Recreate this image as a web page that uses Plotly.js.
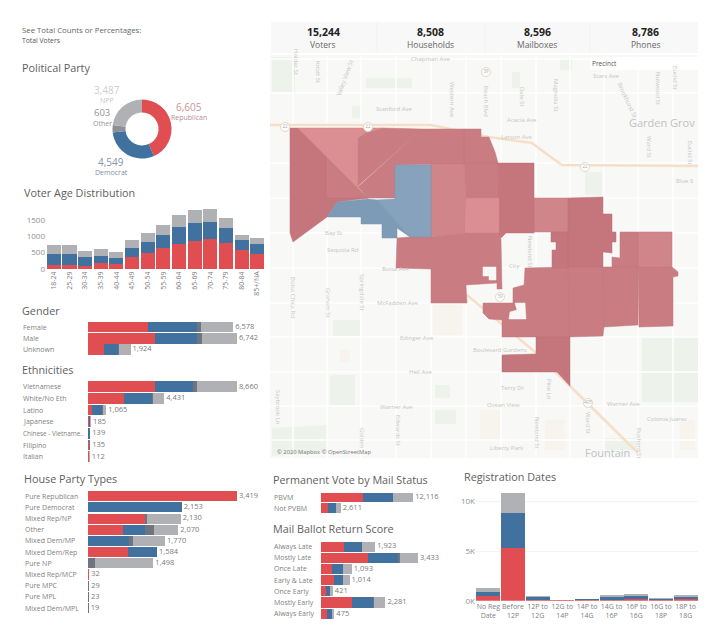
<!DOCTYPE html>
<html><head><meta charset="utf-8">
<script src="https://cdn.plot.ly/plotly-3.0.1.min.js"></script>
<style>html,body{margin:0;padding:0;background:#fff}#c{width:720px;height:640px}</style>
</head><body><div id="c"></div>
<script>
// ---------- data ----------
const statValues = ['15,244','8,508','8,596','8,786'];
const statNames = ['Voters','Households','Mailboxes','Phones'];

const partyNames = ['Republican','Democrat','Other','NPP'];
const partyValues = [6605,4549,603,3487];

const ageCats = ['18-24','25-29','30-34','35-39','40-44','45-49','50-54','55-59','60-64','65-69','70-74','75-79','80-84','85+/NA'];
const ageRep = [112,112,92,184,163,367,500,633,776,857,918,806,571,469];
const ageDem = [337,337,275,224,184,266,316,418,520,541,521,449,307,296];
const ageNpp = [296,276,194,214,163,255,296,306,347,398,408,316,173,174];

const genderCats = ['Female','Male','Unknown'];
const genderRep = [2722,3040,725];
const genderDem = [2208,1900,635];
const genderOth = [197,230,60];
const genderNpp = [1451,1572,504];

const ethCats = ['Vietnamese','White/No Eth','Latino','Japanese','Chinese - Vietname..','Filipino','Italian'];
const ethRep = [3895,2110,233,40,25,35,35];
const ethDem = [2192,1610,581,80,75,50,40];
const ethOth = [233,40,58,15,5,5,3];
const ethNpp = [2340,671,193,50,34,45,34];

const houseCats = ['Pure Republican','Pure Democrat','Mixed Rep/NP','Other','Mixed Dem/MP','Mixed Dem/Rep','Pure NP','Mixed Rep/MCP','Pure MPC','Pure MPL','Mixed Dem/MPL'];
const houseRep = [3419,0,1300,803,0,911,0,16,0,0,0];
const houseDem = [0,2153,0,514,941,673,0,0,0,0,9];
const houseOth = [0,0,47,190,92,0,170,16,29,23,10];
const houseNpp = [0,0,783,563,737,0,1328,0,0,0,0];

const pvbmCats = ['PBVM','Not PVBM'];
const pvbmRep = [5470,960];
const pvbmDem = [3940,1010];
const pvbmOth = [80,40];
const pvbmNpp = [2626,601];

const scoreCats = ['Always Late','Mostly Late','Once Late','Early & Late','Once Early','Mostly Early','Always Early'];
const scoreRep = [814,1674,400,460,165,1108,200];
const scoreDem = [626,1061,368,308,153,743,178];
const scoreOth = [25,45,22,17,7,29,12];
const scoreNpp = [458,653,303,229,96,401,85];

const regCats = ['No Reg<br>Date','Before<br>12P','12P to<br>12G','12G to<br>14P','14P to<br>14G','14G to<br>16P','16P to<br>16G','16G to<br>18P','18P to<br>18G'];
const regRep = [503,5277,90,30,60,120,140,70,130];
const regDem = [403,3523,290,40,80,280,300,130,250];
const regOth = [0,0,20,5,10,20,30,10,30];
const regNpp = [403,2015,103,25,50,117,167,58,127];

// precinct outlines
const precinctDark = [
 [[290,128],[298,128],[326,156],[326,198],[368,198],[337,202],[327,217],[293,242],[290,233]],
 [[498,163],[534,163],[534,233],[506,233],[501,238],[499,233]],
 [[568,198],[603,197],[603,214],[612,214],[612,232],[616,232],[616,242],[612,242],[612,253],[603,252],[603,267],[568,267]],
 [[551,232],[568,232],[568,268],[552,268],[552,250],[556,250],[556,242],[551,242]],
 [[536,337],[570,337],[570,386],[557,372],[502,372],[502,355],[536,354]]
];
const precinctMid = [
 [[358,138],[365,133],[383,128],[422,129],[358,186]],
 [[422,129],[464,129],[464,164],[395,165],[395,198],[368,198],[358,187]],
 [[326,156],[326,198],[368,198]],
 [[464,129],[481,129],[481,137],[489,137],[495,152],[498,163],[464,163]],
 [[464,163],[498,163],[499,198],[466,198]],
 [[397,238],[410,237],[431,237],[465,233],[500,233],[501,240],[502,289],[497,289],[497,283],[466,285],[467,303],[431,303],[431,269],[396,268]],
 [[525,268],[568,267],[569,337],[502,337],[502,320],[489,319],[483,313],[483,303],[513,303],[513,288],[524,285]],
 [[620,232],[638,232],[638,267],[612,267],[612,257],[620,258]],
 [[603,267],[638,267],[638,325],[604,327]],
 [[568,267],[603,267],[604,327],[603,336],[569,337]],
 [[638,267],[672,267],[678,272],[678,276],[673,277],[673,326],[639,327]]
];
const precinctSoft = [
 [[431,164],[464,164],[466,198],[465,233],[431,237]],
 [[534,198],[568,198],[568,232],[534,232]],
 [[638,232],[672,232],[672,267],[638,267]]
];
const precinctLight = [
 [[298,128],[383,128],[365,133],[358,138],[358,188]],
 [[466,198],[499,198],[499,233],[465,233]]
];
const precinctBlueEast = [[[395,165],[431,165],[431,237],[410,237],[377,200],[395,199]]];
const precinctBlueWest = [[[368,199],[377,200],[410,237],[397,228],[397,238],[382,238],[382,224],[361,224],[361,217],[327,217],[337,202]]];
const mapHoles = [
 [[483,267],[496,267],[496,280],[489,280],[489,276],[483,276]],
 [[515,303],[525,303],[526,319],[509,319],[510,312],[517,310]]
];
const parks = [
 [[272,57],[295,57],[295,92],[272,92]],[[366,78],[412,78],[412,88],[366,88]],[[352,106],[362,106],[362,118],[352,118]],
 [[512,72],[520,72],[520,88],[512,88]],[[560,58],[572,58],[572,70],[560,70]],[[585,172],[602,172],[602,195],[585,195]],
 [[330,375],[355,375],[355,405],[330,405]],[[642,337],[698,337],[698,402],[642,402]],[[272,428],[328,425],[328,452],[272,456]],
 [[435,385],[450,385],[450,398],[435,398]],[[435,410],[456,410],[456,424],[435,424]],[[333,320],[360,320],[360,336],[333,336]],
 [[604,438],[640,438],[640,450],[604,450]]
];
const sandPatches = [
 [[433,305],[462,305],[462,335],[433,335]],[[480,410],[500,410],[500,440],[480,440]],[[545,420],[565,420],[565,450],[545,450]],
 [[340,350],[350,350],[350,362],[340,362]],[[680,420],[695,420],[695,450],[680,450]]
];
const roadXs = [293,293,null,327,327,null,361,361,null,396,396,null,431,431,null,466,466,null,501,501,null,536,536,null,570,570,null,604,604,null,638,638,null,673,673,null,
 270,698,null,270,698,null,270,698,null,270,698,null,270,698,null,270,698,null,270,698,null,270,698,null,270,698,null,270,698,null,270,698];
const roadYs = [55,458,null,55,458,null,55,458,null,55,458,null,55,458,null,55,458,null,55,458,null,55,458,null,55,458,null,55,458,null,55,458,null,55,458,null,
 93,93,null,163,163,null,198,198,null,233,233,null,268,268,null,303,303,null,337,337,null,372,372,null,406,406,null,440,440,null,59,59];
const freewayXs = [270,431,489,532,548,562,698,null,467,535,570,638];
const freewayYs = [125,125,137,143,155,165,166,null,295,352,386,453];
const shieldX = [285,368,486,585,500,588];
const shieldY = [127,127,72,167,297,403];
const shieldText = ['22','22','39','22','39','405'];
const mapLabels = [
 ['Chapman Ave',430,59,0],['Stanford Ave',394,109,0],['Acacia Ave',522,120,0],['Larson Ave',516,137,0],
 ['Western Ave',452,100,90],['Beach Blvd',486,101,90],['Dale St',522,97,90],['Magnolia St',556,95,90],
 ['Brookhurst St',627,100,65],['Nutwood St',658,88,90],['Euclid St',675,78,90],['Stars Ave',606,76,0],
 ['Knott St',318,72,90],['Holder St',296,62,90],['Valley View St',345,78,-70],['Ward St',649,147,90],['Euclid St',690,153,90],
 ['Blue S',684,181,0],['Bay St',333,233,0],['Sequoia Rd',343,250,0],['Newland St',530,252,90],['City',514,266,0],
 ['Bolsa Ave',396,269,0],['McFadden Ave',397,303,0],['Edinger Ave',417,338,0],['Boulevard Gardens',500,350,0],['Heil Ave',420,372,0],
 ['Terry Dr',512,388,0],['Ocean View',503,405,0],['Warner Ave',396,407,0],['Warner Ave',623,404,0],['Colonia Juarez',667,419,0],
 ['Liberty Park',507,448,0],['Bolsa Chica Rd',293,297,90],['Graham St',328,303,90],['Springdale St',362,292,90],
 ['Edwards St',398,430,90],['Newland St',537,433,90],['Pine Ln',549,389,90],['Ward St',588,423,90],['Bushard St',639,443,90],['Saybrook Ln',278,407,90],['Golden',362,438,90]
];

// ---------- styling & helpers ----------
const W=720,H=640;
const RED='#e14e51',BLUE='#41719f',OTH='#6d7580',GRY='#b0b1b4';
const F='"Open Sans", sans-serif';
const X=(a,b)=>[a/W,b/W], Y=(a,b)=>[1-b/H,1-a/H];
const data=[],annotations=[],shapes=[],layout={};

function txt(t,x,y,size,color,anchor,extra){
  annotations.push(Object.assign({text:t,x:x/W,y:1-y/H,xref:'paper',yref:'paper',xanchor:anchor||'left',yanchor:'middle',showarrow:false,
    font:{family:F,size:size,color:color},borderpad:0,borderwidth:0},extra||{}));
}
function fmt(n){return n.toLocaleString('en-US');}

let axN=1;
function hPanel(cats,rep,dem,oth,npp,px0,px1,py0,py1,xMax,labelX,barW){
  const n=axN++;const xa='x'+n,ya='y'+n;
  const kx='xaxis'+n,ky='yaxis'+n;
  layout[kx]={domain:X(px0,px1),range:[0,xMax],visible:false,fixedrange:true,anchor:ya};
  layout[ky]={domain:Y(py0,py1),type:'category',categoryarray:cats,range:[cats.length-.5,-.5],visible:false,fixedrange:true,anchor:xa};
  [[rep,RED,'Republican'],[dem,BLUE,'Democrat'],[oth,OTH,'Other'],[npp,GRY,'NPP']].forEach(s=>{
    data.push({type:'bar',orientation:'h',name:s[2],x:s[0],y:cats,xaxis:xa,yaxis:ya,width:barW,marker:{color:s[1],line:{width:0}},hoverinfo:'skip',showlegend:false});
  });
  const totals=cats.map((c,i)=>rep[i]+dem[i]+oth[i]+npp[i]);
  data.push({type:'scatter',mode:'text',x:totals,y:cats,xaxis:xa,yaxis:ya,text:totals.map(v=>' '+fmt(v)),textposition:'middle right',
    textfont:{family:F,size:7.5,color:'#7a7a7a'},cliponaxis:false,hoverinfo:'skip',showlegend:false});
  cats.forEach(c=>annotations.push({text:c,x:labelX/W,y:c,xref:'paper',yref:ya,xanchor:'left',yanchor:'middle',showarrow:false,
    font:{family:F,size:c.length>15?6.4:7,color:'#7f7f7f'},borderpad:0}));
}
function vPanel(cats,series,px0,px1,py0,py1,yMax,barW,yTicks,yText,xFont,xAngle,grid){
  const n=axN++;const xa='x'+n,ya='y'+n;
  layout['xaxis'+n]={domain:X(px0,px1),type:'category',categoryarray:cats,range:[-.5,cats.length-.5],fixedrange:true,anchor:ya,
    showgrid:false,zeroline:false,showline:false,ticks:'',tickangle:xAngle,tickfont:{family:F,size:xFont,color:'#808080'},automargin:false};
  layout['yaxis'+n]={domain:Y(py0,py1),range:[0,yMax],fixedrange:true,anchor:xa,tickvals:yTicks,ticktext:yText,
    showgrid:grid,gridcolor:'#f3f3f3',zeroline:false,showline:false,ticks:'',tickfont:{family:F,size:8,color:'#8f8f8f'},automargin:false};
  series.forEach(s=>data.push({type:'bar',name:s[2],x:cats,y:s[0],xaxis:xa,yaxis:ya,width:barW,marker:{color:s[1],line:{width:0}},hoverinfo:'skip',showlegend:false}));
}

// ---------- text: left top ----------
txt('See Total Counts or Percentages:',22,30,7.8,'#666');
txt('Total Voters',22,40,6.8,'#555');
[['Political Party',22,67],['Voter Age Distribution',24,193],['Gender',22,310],['Ethnicities',22,369],['House Party Types',24,478],
 ['Permanent Vote by Mail Status',273,479],['Mail Ballot Return Score',273,528],['Registration Dates',464,476]].forEach(t=>txt(t[0],t[1],t[2],10.8,'#5e5e5e'));

// ---------- donut ----------
data.push({type:'pie',labels:partyNames,values:partyValues,sort:false,direction:'clockwise',rotation:0,hole:.56,
  domain:{x:X(112.5,171.5),y:Y(99.5,158.5)},marker:{colors:[RED,BLUE,'#8b9097',GRY],line:{color:'#fff',width:0}},textinfo:'none',hoverinfo:'skip',showlegend:false});
txt(fmt(partyValues[3]),107,90,10,'#cdcdcd','center'); txt('NPP',107,100,7,'#c6c6c6','center');
txt(fmt(partyValues[2]),102,113,9.5,'#959595','center'); txt('Other',102,124,7,'#959595','center');
txt(fmt(partyValues[0]),189,107,10,'#cc9396','center'); txt('Republican',189,117,7,'#bd8a8f','center');
txt(fmt(partyValues[1]),111,162,10,'#8795a8','center'); txt('Democrat',111,173,7,'#7f8da2','center');

// ---------- panels ----------
vPanel(ageCats,[[ageRep,RED,'Republican'],[ageDem,BLUE,'Democrat'],[ageNpp,GRY,'NPP']],46,265,207,269,1896,.9,[0,500,1000,1500],['0','500','1000','1500'],7,-90,false);
hPanel(genderCats,genderRep,genderDem,genderOth,genderNpp,88,268,321.5,355,8145,22,.95);
hPanel(ethCats,ethRep,ethDem,ethOth,ethNpp,88,268,381,462.5,10465,22,.92);
hPanel(houseCats,houseRep,houseDem,houseOth,houseNpp,88,268,490.7,613.6,4130,24,.9);
hPanel(pvbmCats,pvbmRep,pvbmDem,pvbmOth,pvbmNpp,321,450,492,513.5,16929,273,.9);
hPanel(scoreCats,scoreRep,scoreDem,scoreOth,scoreNpp,321,450,541,619.3,4565,273,.9);
vPanel(regCats,[[regRep,RED,'Republican'],[regDem,BLUE,'Democrat'],[regOth,OTH,'Other'],[regNpp,GRY,'NPP']],476,698,490,600.7,11150,.96,[0,5000,10000],['0K','5K','10K'],7,0,true);

// ---------- stats strip ----------
shapes.push({type:'rect',xref:'paper',yref:'paper',x0:271/W,x1:698/W,y0:1-22/H,y1:1-53/H,fillcolor:'#f8f8f8',line:{width:0},layer:'below'});
[377,485,590].forEach(x=>shapes.push({type:'line',xref:'paper',yref:'paper',x0:x/W,x1:x/W,y0:1-22/H,y1:1-53/H,line:{color:'#f1f1f1',width:1},layer:'below'}));
[323,430,537,645].forEach((x,i)=>{txt(statValues[i],x,32,10.5,'#222','center',{font:{family:F,size:10.5,color:'#222',weight:700}});txt(statNames[i],x,44.5,8.5,'#666','center');});

// ---------- map ----------
const mn=axN++;const mx='x'+mn,my='y'+mn;
layout['xaxis'+mn]={domain:X(270,698),range:[270,698],visible:false,fixedrange:true,anchor:my};
layout['yaxis'+mn]={domain:Y(55,458),range:[458,55],visible:false,fixedrange:true,anchor:mx};
shapes.push({type:'rect',xref:mx,yref:my,x0:270,x1:698,y0:55,y1:458,fillcolor:'#f8f8f7',line:{width:0},layer:'below'});
function polyTrace(list,fill,line){
  const xs=[],ys=[];
  list.forEach((p,i)=>{if(i){xs.push(null);ys.push(null);}p.forEach(q=>{xs.push(q[0]);ys.push(q[1]);});xs.push(p[0][0]);ys.push(p[0][1]);});
  data.push({type:'scatter',mode:'lines',x:xs,y:ys,xaxis:mx,yaxis:my,fill:'toself',fillcolor:fill,line:{color:line,width:line==='rgba(0,0,0,0)'?0:.5},hoverinfo:'skip',showlegend:false});
}
polyTrace(parks,'#edf3ea','rgba(0,0,0,0)');
polyTrace(sandPatches,'#f6f4ed','rgba(0,0,0,0)');
data.push({type:'scatter',mode:'lines',x:roadXs,y:roadYs,xaxis:mx,yaxis:my,line:{color:'#ffffff',width:1.5},hoverinfo:'skip',showlegend:false,connectgaps:false});
data.push({type:'scatter',mode:'lines',x:freewayXs,y:freewayYs,xaxis:mx,yaxis:my,line:{color:'#f6dfc8',width:2.5},hoverinfo:'skip',showlegend:false,connectgaps:false});
polyTrace(precinctMid,'#c97c82','#c27a7f');
polyTrace(precinctSoft,'#d0858a','#c27a7f');
polyTrace(precinctDark,'#c4767c','#bd7378');
polyTrace(precinctLight,'#dc8f93','#cf8489');
polyTrace(precinctBlueEast,'#86a2bd','#7a97b2');
polyTrace(precinctBlueWest,'#7d9ab6','#7a97b2');
polyTrace(mapHoles,'#f8f8f7','#f8f8f7');
data.push({type:'scatter',mode:'markers+text',x:shieldX,y:shieldY,text:shieldText,xaxis:mx,yaxis:my,textposition:'middle center',
  textfont:{family:F,size:4.5,color:'#aaa'},marker:{size:9,color:'#fff',line:{color:'#e5d8c8',width:1}},hoverinfo:'skip',showlegend:false});
mapLabels.forEach(l=>annotations.push({text:l[0],x:l[1],y:l[2],xref:mx,yref:my,textangle:l[3],showarrow:false,xanchor:'center',yanchor:'middle',
  font:{family:F,size:6,color:'#c6c6c6'},borderpad:0}));
annotations.push({text:'Garden Grov',x:697,y:122,xref:mx,yref:my,xanchor:'right',yanchor:'middle',showarrow:false,font:{family:F,size:11,color:'#c2c2c2'}});
annotations.push({text:'Fountain',x:607,y:452,xref:mx,yref:my,xanchor:'center',yanchor:'middle',showarrow:false,font:{family:F,size:11,color:'#c2c2c2'}});
annotations.push({text:'© 2020 Mapbox © OpenStreetMap',x:275,y:452,xref:mx,yref:my,xanchor:'left',yanchor:'middle',showarrow:false,font:{family:F,size:5.8,color:'#777'}});
shapes.push({type:'rect',xref:'paper',yref:'paper',x0:590/W,x1:698/W,y0:1-57/H,y1:1-70/H,fillcolor:'#ffffff',line:{width:0},layer:'above'});
txt('Precinct',592,63.5,6.5,'#555');

Object.assign(layout,{width:W,height:H,margin:{l:0,r:0,t:0,b:0,pad:0},paper_bgcolor:'#fff',plot_bgcolor:'rgba(0,0,0,0)',barmode:'stack',
  showlegend:false,annotations,shapes,font:{family:F}});
Plotly.newPlot('c',data,layout,{staticPlot:true,displayModeBar:false,responsive:false});
</script></body></html>
